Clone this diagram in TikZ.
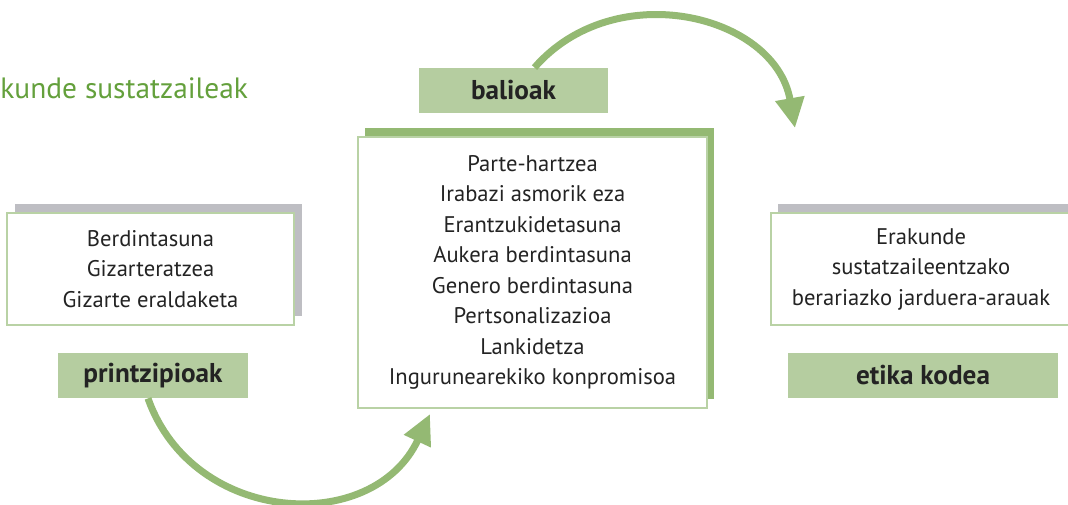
\documentclass[tikz,border=0pt]{standalone}
\usepackage{fontspec}
\setmainfont{PT Sans}
\usetikzlibrary{arrows.meta,shadows,calc}
\definecolor{gezi}{RGB}{148,185,115}
\definecolor{argi}{RGB}{181,205,160}
\definecolor{ertz}{RGB}{185,210,165}
\definecolor{grisa}{RGB}{190,190,195}
\definecolor{izenb}{RGB}{100,160,60}
\definecolor{testu}{RGB}{35,35,35}
\begin{document}
\begin{tikzpicture}[x=0.5pt,y=-0.5pt,
	kutxa/.style={draw=ertz, line width=0.8pt, fill=white, align=center, inner sep=0pt,
		font=\fontsize{11.3}{15.25}\selectfont, text=testu},
	itzal/.style={drop shadow={shadow xshift=#1, shadow yshift=4.5pt, fill=grisa, opacity=1}},
	itzalb/.style={drop shadow={shadow xshift=3.5pt, shadow yshift=4.5pt, fill=gezi, opacity=1}},
	etiketa/.style={fill=argi, inner sep=0pt, minimum height=22.5pt,
		font=\fontsize{13.6}{16}\selectfont\bfseries, text=testu},
	gezia/.style={draw=gezi, line width=3.5pt, -{Triangle[length=15pt,width=14pt]}}]
		\useasboundingbox (0,0) rectangle (1068,504);
		% izenburua
		\node[anchor=base west, inner sep=0pt, text=izenb, font=\fontsize{14.7}{17}\selectfont]
			(izena) at (0,98) {kunde sustatzaileak};
		% printzipioak
		\node[kutxa, itzal=4pt, minimum width=143.5pt, minimum height=56pt] (printz) at (150.5,269)
			{Berdintasuna\\Gizarteratzea\\Gizarte eraldaketa};
		\node[etiketa, minimum width=95pt] (printzl) at (153,375.5) {printzipioak};
		% balioak
		\node[kutxa, itzalb, minimum width=174.5pt, minimum height=135.5pt] (balio) at (532.5,272.5)
			{Parte-hartzea\\Irabazi asmorik eza\\Erantzukidetasuna\\Aukera berdintasuna\\
			Genero berdintasuna\\Pertsonalizazioa\\Lankidetza\\Ingurunearekiko konpromisoa};
		\node[etiketa, minimum width=94.5pt] (baliol) at (513.5,90.5) {balioak};
		% etika kodea
		\node[kutxa, itzal=3.5pt, minimum width=150pt, minimum height=56pt] (kode) at (921,269)
			{Erakunde\\sustatzaileentzako\\berariazko jarduera-arauak};
		\node[etiketa, minimum width=135pt] (kodel) at (923,375.5) {etika kodea};
		% geziak
		\coordinate (gezi1) at (430,414);
		\coordinate (gezi2) at (795,128);
		\draw[gezia] ($(printzl.south)+(-5,0)$) .. controls +(45,127) and +(-57,122) .. (gezi1);
		\draw[gezia] ($(baliol.north)+(21,0)$) .. controls +(80,-92) and +(-20,-114) .. (gezi2);
	\end{tikzpicture}
\end{document}
